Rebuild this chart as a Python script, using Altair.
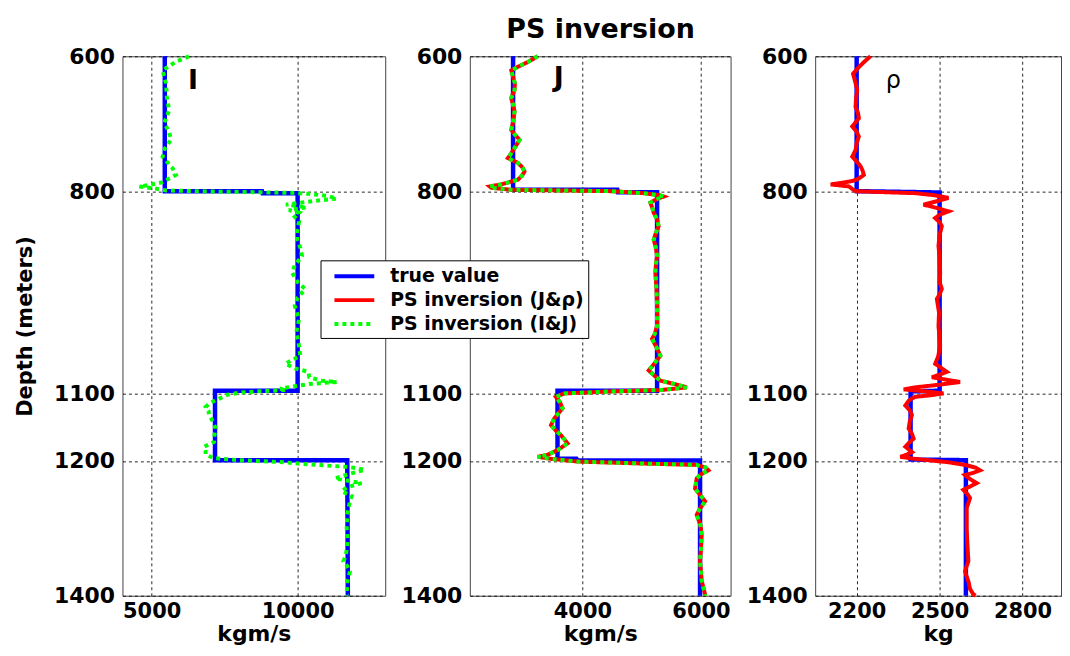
import altair as alt
import pandas as pd

FONT = "DejaVu Sans"

# ---------------- data ----------------
SERIES = ["true value", "PS inversion (J&ρ)", "PS inversion (I&J)"]
COLORS = ["#0000ff", "#ff0000", "#00ff00"]
DASHES = [[1, 0], [1, 0], [4, 4]]

DEPTH_TICKS = [600, 800, 1100, 1200, 1400]

# Panel I (impedance, kgm/s)
I_true_depth = [600, 800, 800, 803, 803, 1096, 1096, 1199, 1199, 1400]
I_true_value = [5450, 5450, 8780, 8800, 10000, 10000, 7170, 7170, 11700, 11720]
I_inv_depth = [600, 608, 621, 640, 660, 680, 699, 712, 724, 737, 749, 766, 776, 787, 791, 793,
               796, 799, 800.5, 801.5, 802.5, 804, 807, 811, 814, 817, 820, 824, 828, 832, 838,
               845, 860, 871, 885, 896, 910, 921, 935, 945, 958, 970, 990, 1010, 1024, 1044,
               1056, 1063, 1068, 1076, 1081, 1083, 1086, 1090, 1093, 1095, 1097, 1099, 1102,
               1108, 1114, 1120, 1126, 1132, 1142, 1152, 1162, 1172, 1179, 1186, 1191, 1196,
               1199, 1202, 1204, 1207, 1209, 1213, 1219, 1226, 1233, 1239, 1245, 1252, 1260,
               1280, 1300, 1320, 1340, 1349, 1356, 1364, 1380, 1398, 1400]
I_inv_value = [6280, 5830, 5375, 5490, 5520, 5600, 5430, 5600, 5660, 5450, 5375, 5715, 5830, 5350, 4900, 4580,
               5100, 5500, 7000, 8500, 9800, 10400, 11000, 11340, 10700, 10100, 9600, 10300, 9700, 10050, 9900,
               10050, 9980, 9980, 10100, 10150, 9900, 9810, 10000, 10260, 10000, 9900, 10050, 9950, 10030, 10090,
               9580, 9920, 10370, 10400, 10800, 11340, 10400, 9800, 9400, 9600, 8600, 8000, 7600,
               7300, 7000, 6850, 6950, 6965, 7100, 7190, 7150, 7135, 6800, 6850, 6850, 7135,
               8000, 9500, 10030, 11000, 11740, 12300, 11800, 11280, 12190, 11700, 11510, 11850, 11790,
               11700, 11680, 11720, 11650, 11570, 11700, 11790, 11700, 11680, 11700]

# Panel J (kgm/s)
J_true_depth = [600, 798, 798, 801.5, 801.5, 1096, 1096, 1197, 1197, 1199.5, 1199.5, 1400]
J_true_value = [2830, 2830, 4590, 4600, 5260, 5260, 3580, 3580, 3900, 3920, 5985, 5985]
J_inv_depth = [600, 605, 611, 616, 621, 630, 640, 650, 662, 672, 682, 699, 709, 716, 724, 734, 744,
               751, 758, 765, 771, 777, 783, 790, 793, 795, 798, 800, 803, 806, 808, 812, 817, 825,
               832, 842, 852, 862, 872, 884, 896, 910, 921, 945, 970, 1000, 1012, 1019, 1030, 1044,
               1055, 1066, 1074, 1081, 1086, 1091, 1093, 1095, 1097, 1100, 1105, 1113, 1122, 1130,
               1137, 1147, 1155, 1162, 1174, 1180, 1184, 1191, 1194, 1197, 1201, 1204, 1206, 1210,
               1214, 1220, 1226, 1241, 1250, 1260, 1270, 1280, 1295, 1310, 1330, 1349, 1378, 1398, 1400]
J_inv_value = [3246, 3150, 3022, 2900, 2800, 2827, 2860, 2855, 2799, 2830, 2855, 2827, 2799, 2860, 2939, 2870, 2799,
               2743, 2911, 2990, 3022, 2980, 2911, 2631, 2435, 2463, 2799, 4476, 5035, 5300, 5370, 5250, 5147, 5180,
               5203, 5260, 5286, 5240, 5203, 5240, 5259, 5240, 5231, 5250, 5259, 5259, 5220, 5175, 5240, 5315,
               5220, 5119, 5220, 5315, 5550, 5761, 5550, 5315, 4476, 3693, 3553, 3620, 3665, 3590,
               3525, 3470, 3550, 3637, 3749, 3650, 3581, 3414, 3246, 3470, 3917, 5035, 5929, 6080,
               6125, 6000, 5929, 5901, 5980, 6069, 5990, 5929, 5990, 6013, 6000, 5985, 6013, 6069, 6069]

# Panel rho (kg)
R_true_depth = [600, 800, 802, 1096, 1097, 1198, 1199, 1400]
R_true_value = [2200, 2200, 2500, 2500, 2395, 2395, 2595, 2595]
R_inv_depth = [600, 608, 616, 626, 638, 650, 662, 675, 684, 692, 704, 712, 719, 729, 739, 749, 756, 763,
               770, 776, 782, 785, 788, 790, 792, 793, 797, 800, 801.5, 803, 806, 810, 815, 820, 825,
               830, 835, 840, 846, 852, 865, 881, 900, 921, 935, 945, 953, 960, 980, 1000, 1029, 1045,
               1056, 1062, 1068, 1072, 1076, 1080, 1083, 1087, 1091, 1094, 1097, 1100, 1103, 1105, 1110,
               1118, 1125, 1132, 1142, 1152, 1160, 1167, 1173, 1179, 1187, 1191, 1194, 1197, 1199, 1202,
               1206, 1210, 1214, 1218, 1221, 1227, 1233, 1238, 1243, 1249, 1255, 1270, 1300, 1320, 1349,
               1356, 1364, 1380, 1390, 1398, 1400]
R_inv_value = [2250, 2228, 2208, 2187, 2195, 2202, 2198, 2196, 2205, 2208, 2184, 2200, 2208, 2200, 2196, 2184, 2200, 2214,
               2222, 2226, 2205, 2184, 2140, 2106, 2150, 2172, 2185, 2196, 2300, 2412, 2480, 2532, 2490, 2442, 2490,
               2532, 2500, 2484, 2500, 2508, 2500, 2496, 2500, 2502, 2500, 2508, 2500, 2490, 2498, 2496, 2502, 2495,
               2484, 2505, 2526, 2500, 2472, 2530, 2574, 2500, 2412, 2370, 2450, 2514, 2460, 2412, 2390,
               2376, 2392, 2400, 2392, 2388, 2400, 2406, 2390, 2376, 2400, 2380, 2358, 2410, 2460, 2530,
               2592, 2630, 2646, 2620, 2592, 2610, 2634, 2610, 2586, 2600, 2610, 2598, 2598, 2600, 2604,
               2598, 2592, 2605, 2610, 2622, 2630]

PANEL_LABELS = ["I", "J", "ρ"]
LABEL_X = [6420, 3600, 2333]
LABEL_Y = [637, 632, 637]

# ---------------- chart ----------------
color_scale = alt.Scale(domain=SERIES, range=COLORS)
dash_scale = alt.Scale(domain=SERIES, range=DASHES)
legend = alt.Legend(
    title=None, orient="none", legendX=199, legendY=205,
    fillColor="white", strokeColor="black", padding=4, cornerRadius=0,
    symbolType="M-2,0H2", symbolSize=400, symbolStrokeWidth=4,
    labelFont=FONT, labelFontSize=19, labelFontWeight="bold", labelColor="black",
    labelOffset=24, symbolOffset=18, rowPadding=2, labelLimit=400,
)


def frame(depth, value, series):
    return pd.DataFrame({"depth": depth, "value": value, "series": series,
                         "idx": list(range(len(depth)))})


def panel(true_d, true_v, invs, xdomain, xticks, xtitle, width, k, ytitle, bold_label):
    x = alt.X("value:Q", scale=alt.Scale(domain=xdomain, nice=False, zero=False),
              axis=alt.Axis(values=xticks, format="d", title=xtitle))
    if ytitle:
        yaxis = alt.Axis(values=DEPTH_TICKS, format="d", title=ytitle)
    else:
        yaxis = alt.Axis(values=DEPTH_TICKS, format="d", title=None)
    y = alt.Y("depth:Q", scale=alt.Scale(domain=[600, 1400], reverse=True, nice=False, zero=False),
              axis=yaxis)
    enc = dict(x=x, y=y, order="idx:Q",
               color=alt.Color("series:N", scale=color_scale, legend=legend),
               strokeDash=alt.StrokeDash("series:N", scale=dash_scale, legend=legend))
    layers = [alt.Chart(frame(true_d, true_v, SERIES[0])).mark_line(strokeWidth=4.5).encode(**enc)]
    for d, v, s in invs:
        layers.append(alt.Chart(frame(d, v, s)).mark_line(strokeWidth=4).encode(**enc))
    lab = pd.DataFrame({"value": [LABEL_X[k]], "depth": [LABEL_Y[k]], "t": [PANEL_LABELS[k]]})
    layers.append(alt.Chart(lab).mark_text(font=FONT, fontSize=27 if bold_label else 24,
                                           fontWeight="bold" if bold_label else "normal",
                                           color="black").encode(x="value:Q", y="depth:Q", text="t:N"))
    return alt.layer(*layers).properties(width=width, height=542)


p1 = panel(I_true_depth, I_true_value, [(I_inv_depth, I_inv_value, SERIES[2])],
           [4000, 13000], [5000, 10000], "kgm/s", 264, 0, "Depth (meters)", True)
p2 = panel(J_true_depth, J_true_value, [(J_inv_depth, J_inv_value, SERIES[1]),
                                        (J_inv_depth, J_inv_value, SERIES[2])],
           [2100, 6500], [4000, 6000], "kgm/s", 262, 1, None, True)
p3 = panel(R_true_depth, R_true_value, [(R_inv_depth, R_inv_value, SERIES[1])],
           [2050, 2939], [2200, 2500, 2800], "kg", 247, 2, None, False)

chart = alt.hconcat(p1, p2, p3, spacing=85, bounds="flush").properties(
    title=alt.TitleParams("PS inversion", font=FONT, fontSize=27, fontWeight="bold",
                          color="black", anchor="middle", offset=1, dx=63),
    padding={"left": 6, "top": 6, "right": 0, "bottom": 0},
).configure_view(stroke="#444444", strokeWidth=1).configure_axis(
    domain=False, ticks=False, grid=True, gridColor="black", gridDash=[3, 3],
    gridWidth=1, gridOpacity=0.85,
    labelFont=FONT, labelFontSize=22, labelFontWeight="bold", labelColor="black",
    titleFont=FONT, titleFontWeight="bold", titleColor="black",
).configure_axisX(labelPadding=5, labelFontSize=21, titleFontSize=22, titlePadding=2).configure_axisY(
    labelPadding=8, titleFontSize=21, titlePadding=18
)

chart.save("out.html", embed_options={"renderer": "svg", "actions": False})
